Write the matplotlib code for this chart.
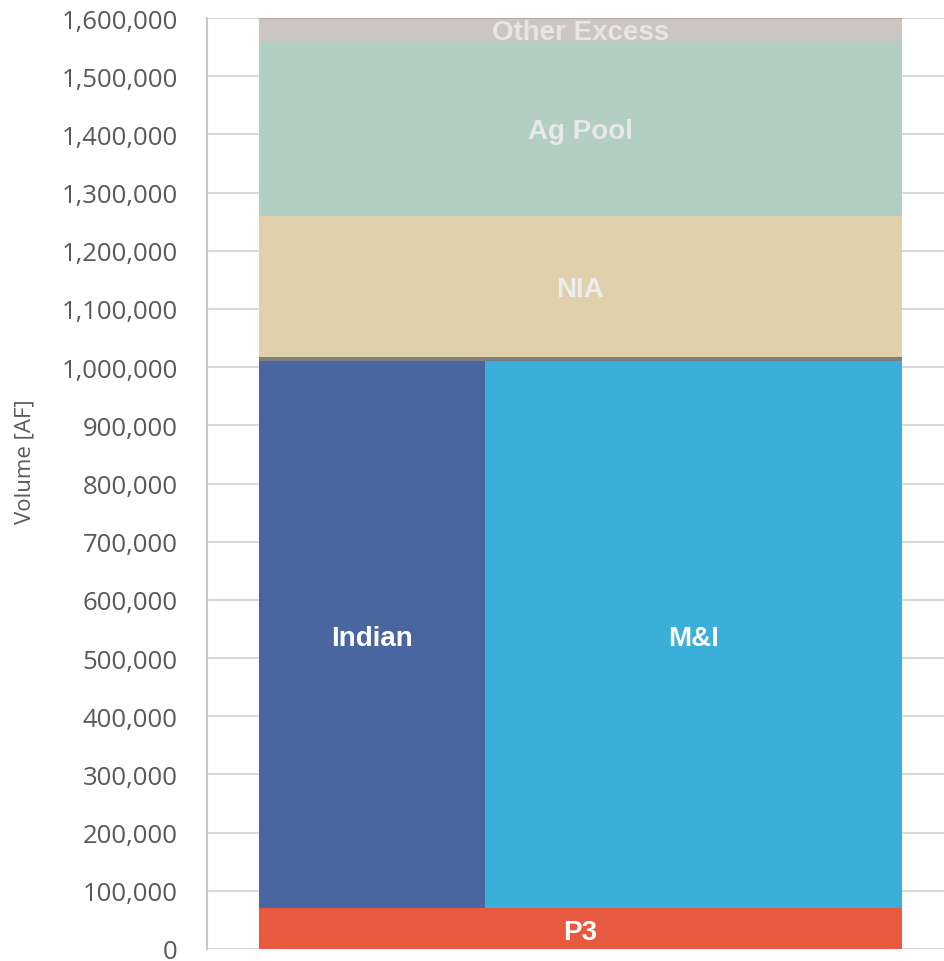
import matplotlib
matplotlib.use('Agg')
import matplotlib.pyplot as plt
from matplotlib.ticker import FuncFormatter

# stacked blocks: name, bottom, top, left share, width share
segments = ['P3', 'Indian', 'M&I', 'Band', 'NIA', 'Ag Pool', 'Other Excess']
bottoms = [0, 70000, 70000, 1010000, 1018000, 1260000, 1561000]
tops = [70000, 1010000, 1010000, 1018000, 1260000, 1561000, 1600000]
lefts = [0.0, 0.0, 0.3515, 0.0, 0.0, 0.0, 0.0]
widths = [1.0, 0.3515, 0.6485, 1.0, 1.0, 1.0, 1.0]
colors = ['#E85A40', '#4A66A0', '#3BAFDA', '#7F7F7F', '#E0D0AC', '#B3CEC2', '#CBC6C2']
label_colors = ['white', 'white', 'white', None, '#EDEDED', '#E8E8E8', '#E6E6E6']

y_ticks = list(range(0, 1700000, 100000))

fig = plt.figure(figsize=(9.45, 9.62), dpi=100)
ax = fig.add_axes([207 / 945, 1 - 950 / 962, 738 / 945, 931 / 962])

for name, b, t, l, w, c, lc in zip(segments, bottoms, tops, lefts, widths, colors, label_colors):
    ax.bar(l, t - b, bottom=b, width=w, align='edge', color=c, linewidth=0, zorder=3)
    if lc is not None:
        ax.text(l + w / 2, (b + t) / 2, name, ha='center', va='center_baseline', color=lc,
                fontsize=20, fontweight='bold', family='Liberation Sans', zorder=4)

ax.axhline(1600000, xmin=52 / 738, xmax=695 / 738, color='#B3A49E', lw=1.2, zorder=4)

ax.set_xlim(-52 / 643, 686 / 643)
ax.set_ylim(0, 1600000)
ax.set_yticks(y_ticks)
ax.yaxis.set_major_formatter(FuncFormatter(lambda v, p: '{:,.0f}'.format(v)))
ax.set_xticks([])
ax.tick_params(axis='y', length=0, pad=21, labelsize=18.5, labelcolor='#595959')
for lab in ax.get_yticklabels():
    lab.set_family('Open Sans')

ax.grid(axis='y', color='#D9D9D9', lw=1.5, zorder=0)
for s in ['top', 'right', 'bottom']:
    ax.spines[s].set_visible(False)
ax.spines['left'].set_color('#C8C8C8')
ax.spines['left'].set_linewidth(1.5)

ax.set_ylabel('Volume [AF]', fontsize=16, color='#595959', family='Open Sans')
ax.yaxis.set_label_coords(-0.232, 0.524)

fig.savefig('out.png', dpi=100)
